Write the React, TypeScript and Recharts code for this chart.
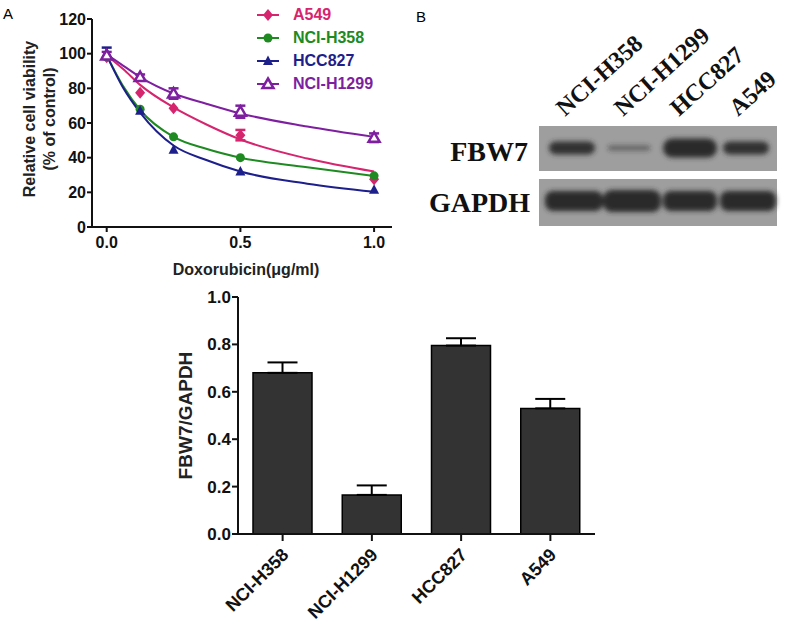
// Dose-response curves (A), western blot (B) and FBW7/GAPDH densitometry bars
import React from 'react';
import {
  ComposedChart,
  BarChart,
  Bar,
  Line,
  Scatter,
  XAxis,
  YAxis,
  ErrorBar,
  Legend,
  Label,
} from 'recharts';

// panel A: measured points (null = error bar hidden behind the marker)
const doses = [0, 0.125, 0.25, 0.5, 1];
const a549Mean = [98, 77.5, 68.5, 53, 27.5];
const a549Err = [null, null, null, 3, null];
const h358Mean = [98, 68, 52, 40, 29.5];
const h358Err = [null, null, null, null, null];
const hcc827Mean = [100.5, 67, 44.5, 32, 21.5];
const hcc827Err = [3, null, null, null, null];
const h1299Mean = [99, 86.5, 77, 66.5, 51.5];
const h1299Err = [2, 1.5, 3, 3.5, 2.5];

// panel A: fitted curves
const fitDoses = [0, 0.0625, 0.125, 0.25, 0.375, 0.5, 0.75, 1];
const a549Fit = [99, 91, 82, 69, 59, 50.5, 39.5, 32];
const h358Fit = [99, 81, 67.5, 52, 45, 40, 34.5, 29.4];
const hcc827Fit = [99, 80, 66, 47, 38.5, 32, 25, 20.3];
const h1299Fit = [99.5, 93, 86.5, 77, 71, 65.5, 58, 52];

const doseTicks = [0, 0.5, 1];
const viabilityTicks = [0, 20, 40, 60, 80, 100, 120];

// panel B bars
const cellLines = ['NCI-H358', 'NCI-H1299', 'HCC827', 'A549'];
const ratio = [0.68, 0.165, 0.795, 0.53];
const ratioErr = [0.044, 0.04, 0.031, 0.04];
const ratioTicks = [0, 0.2, 0.4, 0.6, 0.8, 1.0];

const SANS = '"Liberation Sans", Arial, sans-serif';
const SERIF = '"Liberation Serif", "Times New Roman", serif';

type Kind = 'diamond' | 'circle' | 'triangle' | 'openTriangle';

const toPoints = (ys: number[], errs: (number | null)[]) =>
  doses.map((x, i) => ({ x, y: ys[i], err: errs[i] }));
const toFit = (ys: number[]) => fitDoses.map((x, i) => ({ x, y: ys[i] }));

const series = [
  { name: 'A549', color: '#d6246e', kind: 'diamond' as Kind, pts: toPoints(a549Mean, a549Err), fit: toFit(a549Fit) },
  { name: 'NCI-H358', color: '#1f8a22', kind: 'circle' as Kind, pts: toPoints(h358Mean, h358Err), fit: toFit(h358Fit) },
  { name: 'HCC827', color: '#1d1f8a', kind: 'triangle' as Kind, pts: toPoints(hcc827Mean, hcc827Err), fit: toFit(hcc827Fit) },
  { name: 'NCI-H1299', color: '#7e1fa0', kind: 'openTriangle' as Kind, pts: toPoints(h1299Mean, h1299Err), fit: toFit(h1299Fit) },
];

function Marker({ cx, cy, kind, color }: { cx?: number; cy?: number; kind: Kind; color: string }) {
  if (cx == null || cy == null) return null;
  if (kind === 'diamond')
    return <polygon points={`${cx},${cy - 6} ${cx + 5},${cy} ${cx},${cy + 6} ${cx - 5},${cy}`} fill={color} />;
  if (kind === 'circle') return <circle cx={cx} cy={cy} r={4.5} fill={color} />;
  if (kind === 'triangle')
    return <polygon points={`${cx},${cy - 5.5} ${cx + 5},${cy + 4} ${cx - 5},${cy + 4}`} fill={color} />;
  return (
    <polygon
      points={`${cx},${cy - 5.5} ${cx + 5.5},${cy + 4} ${cx - 5.5},${cy + 4}`}
      fill="#fff"
      stroke={color}
      strokeWidth={2.5}
    />
  );
}

const renderLegend = () => (
  <div style={{ fontFamily: SANS }}>
    {series.map((s) => (
      <div key={s.name} style={{ display: 'flex', alignItems: 'center', height: 23 }}>
        <svg width={28} height={16}>
          <line x1={2} x2={24} y1={8} y2={8} stroke={s.color} strokeWidth={2} />
          <Marker cx={13} cy={8} kind={s.kind} color={s.color} />
        </svg>
        <span style={{ color: s.color, fontWeight: 'bold', fontSize: 16, marginLeft: 10 }}>{s.name}</span>
      </div>
    ))}
  </div>
);

const ViabilityLabel = (props: any) => {
  const { x, y, height } = props.viewBox;
  const cy = y + height / 2 - 4;
  const style = { fontFamily: SANS, fontWeight: 'bold' as const, fontSize: 16, fill: '#222' };
  return (
    <g>
      <text x={x + 29} y={cy} transform={`rotate(-90 ${x + 29} ${cy})`} textAnchor="middle" dominantBaseline="central" style={style}>
        Relative cell viability
      </text>
      <text x={x + 49} y={cy} transform={`rotate(-90 ${x + 49} ${cy})`} textAnchor="middle" dominantBaseline="central" style={style}>
        (% of control)
      </text>
    </g>
  );
};

const CellTick = (props: any) => {
  const { x, y, payload } = props;
  const ax = x + 7;
  const ay = y + 13;
  return (
    <text
      x={ax}
      y={ay}
      transform={`rotate(-45 ${ax} ${ay})`}
      textAnchor="end"
      style={{ fontFamily: SANS, fontWeight: 'bold', fontSize: 18, fill: '#111' }}
    >
      {payload.value}
    </text>
  );
};

// western blot picture (panel B, top)
const fbwBands = [
  { cx: 572, w: 46, h: 13, op: 0.95 },
  { cx: 629, w: 42, h: 5, op: 0.55 },
  { cx: 690, w: 54, h: 19, op: 1 },
  { cx: 746, w: 46, h: 13, op: 0.95 },
];
const gapdhBands = [
  { cx: 574, w: 58, h: 20, op: 1 },
  { cx: 632, w: 58, h: 22, op: 1 },
  { cx: 690, w: 54, h: 20, op: 1 },
  { cx: 748, w: 56, h: 20, op: 1 },
];
const laneStarts = [565, 623, 679, 738];

function Blot() {
  const ox = 400;
  return (
    <svg width={386} height={240} style={{ position: 'absolute', left: ox, top: 0 }}>
      <defs>
        <filter id="soft" x="-30%" y="-80%" width="160%" height="260%">
          <feGaussianBlur stdDeviation="2.4" />
        </filter>
      </defs>
      {cellLines.map((name, i) => {
        const x = laneStarts[i] - ox;
        return (
          <text
            key={name}
            x={x}
            y={117}
            transform={`rotate(-42 ${x} 117)`}
            style={{ fontFamily: SERIF, fontWeight: 'bold', fontSize: 24, fill: '#111' }}
          >
            {name}
          </text>
        );
      })}
      <text x={528 - ox} y={161} textAnchor="end" style={{ fontFamily: SERIF, fontWeight: 'bold', fontSize: 28, fill: '#111' }}>
        FBW7
      </text>
      <text x={530 - ox} y={212} textAnchor="end" style={{ fontFamily: SERIF, fontWeight: 'bold', fontSize: 28, fill: '#111' }}>
        GAPDH
      </text>
      <rect x={539 - ox} y={126} width={238} height={45} fill="#9e9e9e" />
      <rect x={539 - ox} y={179} width={238} height={47} fill="#9e9e9e" />
      <g filter="url(#soft)">
        {fbwBands.map((b, i) => (
          <rect key={i} x={b.cx - ox - b.w / 2} y={148 - b.h / 2} width={b.w} height={b.h} rx={b.h / 2} fill="#2b2b2b" opacity={b.op} />
        ))}
        {gapdhBands.map((b, i) => (
          <rect key={i} x={b.cx - ox - b.w / 2} y={201 - b.h / 2} width={b.w} height={b.h} rx={b.h / 2.5} fill="#2b2b2b" opacity={b.op} />
        ))}
      </g>
    </svg>
  );
}

const barData = cellLines.map((name, i) => ({ name, ratio: ratio[i], errRange: [0, ratioErr[i]] }));

export default function App() {
  const tickStyle = { fill: '#111', fontSize: 16, fontWeight: 'bold', fontFamily: SANS };
  return (
    <div style={{ position: 'absolute', left: 0, top: 0, width: 786, height: 628, background: '#fff', fontFamily: SANS }}>
      <div style={{ position: 'absolute', left: 3, top: 6, fontSize: 15, lineHeight: 1 }}>A</div>
      <div style={{ position: 'absolute', left: 416, top: 9, fontSize: 15, lineHeight: 1 }}>B</div>

      <div style={{ position: 'absolute', left: 0, top: 0 }}>
        <ComposedChart width={400} height={280} margin={{ top: 19, right: 8, bottom: 0, left: 0 }}>
          <XAxis
            type="number"
            dataKey="x"
            domain={[-0.055, 1.067]}
            ticks={doseTicks}
            allowDataOverflow
            tickFormatter={(v: number) => v.toFixed(1)}
            height={53}
            axisLine={{ stroke: '#111', strokeWidth: 2 }}
            tickLine={{ stroke: '#111', strokeWidth: 2 }}
            tickSize={5}
            tickMargin={5}
            tick={tickStyle}
          >
            <Label
              value="Doxorubicin(μg/ml)"
              position="insideBottom"
              offset={5}
              dx={4}
              style={{ fontFamily: SANS, fontWeight: 'bold', fontSize: 16, fill: '#222' }}
            />
          </XAxis>
          <YAxis
            type="number"
            domain={[0, 120]}
            ticks={viabilityTicks}
            width={92}
            axisLine={{ stroke: '#111', strokeWidth: 2 }}
            tickLine={{ stroke: '#111', strokeWidth: 2 }}
            tickSize={5}
            tickMargin={1}
            tick={tickStyle}
            label={<Label content={ViabilityLabel} />}
          />
          {series.map((s) => (
            <Line
              key={`fit-${s.name}`}
              data={s.fit}
              dataKey="y"
              type="monotone"
              stroke={s.color}
              strokeWidth={2}
              dot={false}
              activeDot={false}
              isAnimationActive={false}
              legendType="none"
            />
          ))}
          {series.map((s) => (
            <Scatter
              key={`pts-${s.name}`}
              name={s.name}
              data={s.pts}
              dataKey="y"
              fill={s.color}
              isAnimationActive={false}
              shape={(p: any) => <Marker cx={p.cx} cy={p.cy} kind={s.kind} color={s.color} />}
            >
              <ErrorBar dataKey="err" direction="y" width={5} stroke={s.color} strokeWidth={2.5} />
            </Scatter>
          ))}
          <Legend
            layout="vertical"
            align="center"
            verticalAlign="middle"
            content={renderLegend}
            wrapperStyle={{ left: 255, top: 3.5, width: 150 }}
          />
        </ComposedChart>
      </div>

      <Blot />

      <div style={{ position: 'absolute', left: 100, top: 270 }}>
        <BarChart width={520} height={358} data={barData} margin={{ top: 27, right: 25, bottom: 0, left: 0 }}>
          <XAxis
            dataKey="name"
            height={94}
            interval={0}
            axisLine={{ stroke: '#111', strokeWidth: 2 }}
            tickLine={{ stroke: '#111', strokeWidth: 2 }}
            tickSize={7}
            tick={<CellTick />}
          />
          <YAxis
            domain={[0, 1]}
            ticks={ratioTicks}
            width={138}
            tickFormatter={(v: number) => v.toFixed(1)}
            axisLine={{ stroke: '#111', strokeWidth: 2 }}
            tickLine={{ stroke: '#111', strokeWidth: 2 }}
            tickSize={6}
            tickMargin={1}
            tick={{ fill: '#111', fontSize: 17, fontWeight: 'bold', fontFamily: SANS }}
          >
            <Label
              value="FBW7/GAPDH"
              angle={-90}
              position="center"
              dx={16}
              style={{ fontFamily: SANS, fontWeight: 'bold', fontSize: 19, fill: '#222' }}
            />
          </YAxis>
          <Bar dataKey="ratio" barSize={59} fill="#333" stroke="#000" strokeWidth={1.5} isAnimationActive={false}>
            <ErrorBar dataKey="errRange" direction="y" width={15} stroke="#000" strokeWidth={2} />
          </Bar>
        </BarChart>
      </div>
    </div>
  );
}
